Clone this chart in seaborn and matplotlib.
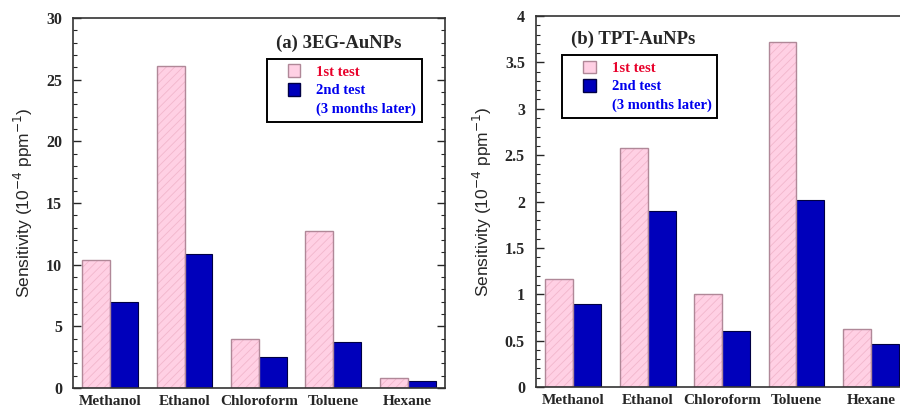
import numpy as np
import pandas as pd
import seaborn as sns
import matplotlib
matplotlib.use("Agg")
from matplotlib import pyplot as plt
from matplotlib.patches import Patch, Rectangle
from matplotlib.legend_handler import HandlerPatch
from matplotlib.ticker import MultipleLocator

solvents = ['Methanol', 'Ethanol', 'Chloroform', 'Toluene', 'Hexane']
tests = ['1st test', '2nd test']

eg_first = [10.4, 26.1, 4.0, 12.7, 0.85]
eg_second = [6.95, 10.9, 2.55, 3.7, 0.55]
tpt_first = [1.16, 2.58, 1.0, 3.72, 0.62]
tpt_second = [0.9, 1.9, 0.6, 2.02, 0.46]

PINK = '#ffd0e4'
PINK_EDGE = '#b08898'
PINK_HATCH = '#f2b6cc'
BLUE = '#0000bb'
SERIF = 'Liberation Serif'
SANS = 'Liberation Sans'

plt.rcParams['hatch.linewidth'] = 0.6


def square_right(legend, orig_handle, xdescent, ydescent, width, height, fontsize):
    s = height * 1.05
    return Rectangle((width - s - xdescent, -ydescent - (s - height) / 2), s, s)


def make_frame(first, second):
    return pd.DataFrame({
        'solvent': solvents * 2,
        'test': [tests[0]] * 5 + [tests[1]] * 5,
        'value': list(first) + list(second),
    })


def draw(ax, df, ymax, major, minor, title, title_xy, legend_anchor):
    sns.barplot(data=df, x='solvent', y='value', hue='test', ax=ax,
                palette=[PINK, BLUE], width=0.75, saturation=1,
                errorbar=None, legend=False)
    pink_bars = list(ax.patches[:5])
    for bar in pink_bars:
        bar.set_hatch('////')
        bar.set_edgecolor(PINK_HATCH)
        bar.set_linewidth(0)
        ax.add_patch(Rectangle(bar.get_xy(), bar.get_width(), bar.get_height(),
                               fill=False, edgecolor=PINK_EDGE, linewidth=1.0))
    for bar in ax.patches[5:10]:
        bar.set_edgecolor('#000044')
        bar.set_linewidth(0.8)

    ax.set_xlim(-0.5, 4.5)
    ax.set_ylim(0, ymax)
    ax.yaxis.set_major_locator(MultipleLocator(major))
    ax.yaxis.set_minor_locator(MultipleLocator(minor))
    ax.yaxis.set_major_formatter(plt.FuncFormatter(lambda v, p: '%g' % round(v, 3)))
    ax.tick_params(axis='y', which='major', direction='in', length=6,
                   width=1, left=True, right=True, labelsize=11.5, pad=8)
    ax.tick_params(axis='y', which='minor', direction='in', length=3,
                   width=0.8, left=True, right=True)
    ax.tick_params(axis='x', length=0, labelsize=11, pad=5)
    for lab in ax.get_yticklabels() + ax.get_xticklabels():
        lab.set_fontfamily(SERIF)
        lab.set_fontweight('bold')
    for sp in ax.spines.values():
        sp.set_visible(True)
        sp.set_color('#333333')
        sp.set_linewidth(1.2)

    ax.set_xlabel('')
    ax.set_ylabel('Sensitivity (10$^{-4}$ ppm$^{-1}$)', fontfamily=SANS,
                  fontsize=12.5, labelpad=8)

    ax.text(title_xy[0], title_xy[1], title, transform=ax.transAxes,
            ha='center', va='center', fontfamily=SERIF, fontweight='bold',
            fontsize=13.5)

    handles = [Patch(facecolor=PINK, edgecolor=PINK_EDGE, linewidth=1),
               Patch(facecolor=BLUE, edgecolor='#000044', linewidth=1),
               Patch(facecolor='none', edgecolor='none')]
    leg = ax.legend(handles, ['1st test', '2nd test', '(3 months later)'],
                    loc='upper left', bbox_to_anchor=legend_anchor,
                    frameon=True, fancybox=False, edgecolor='black',
                    framealpha=1, handlelength=1.9, handleheight=0.9,
                    handletextpad=1.1, borderpad=0.4, labelspacing=0.3,
                    prop={'family': SERIF, 'weight': 'bold', 'size': 10.5},
                    borderaxespad=0,
                    handler_map={Patch: HandlerPatch(patch_func=square_right)})
    leg.get_frame().set_linewidth(1.4)
    texts = leg.get_texts()
    texts[0].set_color('#e8002a')
    texts[1].set_color('#0000ee')
    texts[2].set_color('#0000ee')


sns.set_style('white')
fig = plt.figure(figsize=(9, 4.09), dpi=100)
ax1 = fig.add_axes([0.0811, 0.0513, 0.4133, 0.905])
ax2 = fig.add_axes([0.5956, 0.0538, 0.4133, 0.907])

draw(ax1, make_frame(eg_first, eg_second), 30, 5, 1,
     '(a) 3EG-AuNPs', (0.715, 0.932), (0.521, 0.889))
draw(ax2, make_frame(tpt_first, tpt_second), 4, 0.5, 0.1,
     '(b) TPT-AuNPs', (0.262, 0.938), (0.07, 0.895))

fig.savefig('out.png', dpi=100)
